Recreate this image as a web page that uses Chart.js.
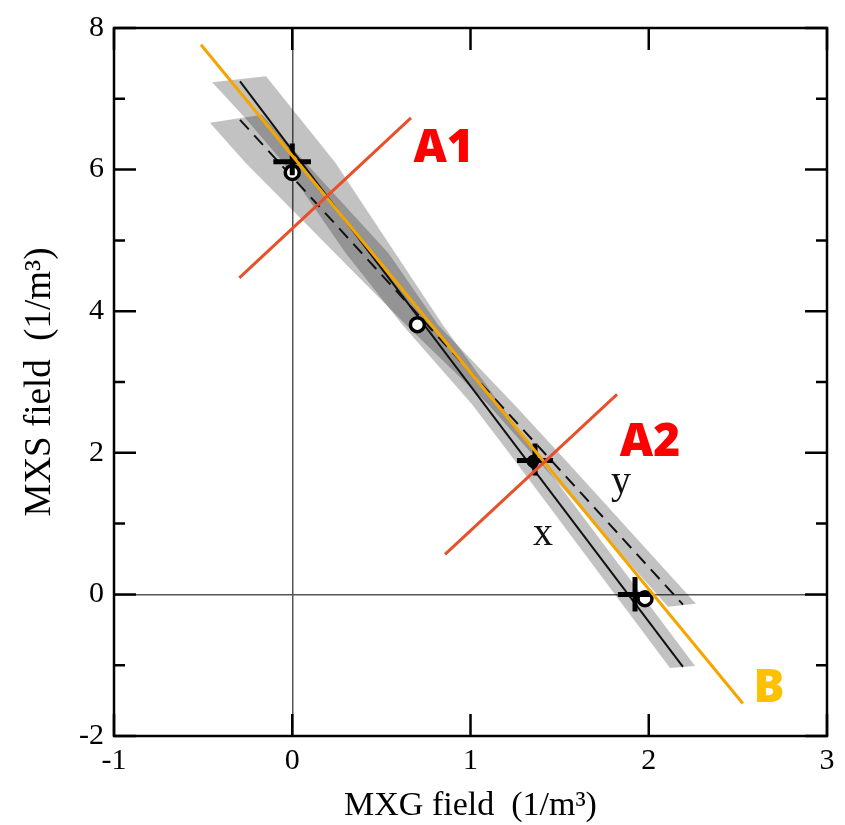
<!DOCTYPE html>
<html>
<head>
<meta charset="utf-8">
<script src="https://cdn.jsdelivr.net/npm/chart.js@4.4.1/dist/chart.umd.min.js"></script>
<style>
  html, body { margin: 0; padding: 0; background: #fff; }
  #wrap { width: 845px; height: 825px; }
</style>
</head>
<body>
<div id="wrap"><canvas id="fieldChart" width="845" height="825"></canvas></div>
<script>
// axis ticks
const xTicks = [-1, 0, 1, 2, 3];
const yTicks = [-2, 0, 2, 4, 6, 8];
const yMinorTicks = [-1, 1, 3, 5, 7];

// regression lines, x on y (solid) and y on x (dashed)
const xFitX = [-0.293, 2.192];
const xFitY = [7.247, -1.024];
const yFitX = [-0.293, 2.192];
const yFitY = [6.703, -0.145];

// reference line B and the two cross sections A1, A2
const lineBX = [-0.512, 2.528];
const lineBY = [7.763, -1.541];
const lineA1X = [-0.297, 0.666];
const lineA1Y = [4.471, 6.730];
const lineA2X = [0.857, 1.822];
const lineA2Y = [0.566, 2.826];

// confidence band outlines
const xBandX = [-0.450, -0.147, 0.240, 0.846, 1.166, 1.390, 2.260, 2.119, 1.244, 1.008, 0.620, 0.300, -0.052, -0.265];
const xBandY = [7.233, 7.317, 6.103, 3.802, 2.686, 1.905, -1.010, -1.038, 1.905, 2.686, 3.802, 4.820, 6.103, 6.731];
const yBandX = [-0.462, -0.170, 0.072, 0.540, 0.820, 1.244, 1.530, 2.265, 2.108, 1.373, 1.098, 0.640, -0.265];
const yBandY = [6.661, 6.773, 6.103, 4.820, 3.802, 2.686, 1.905, -0.131, -0.173, 1.905, 2.686, 3.802, 6.103];

// measured points
const circleX = [0.0, 0.702, 1.979];
const circleY = [5.96, 3.81, -0.06];
const dotX = [1.35];
const dotY = [1.88];

// error bars
const barX = [0.0, 1.362, 1.923];
const barY = [6.11, 1.89, 0.0];
const barXLo = [-0.106, 1.261, 1.827];
const barXHi = [0.105, 1.463, 2.024];
const barYLo = [5.92, 1.68, -0.243];
const barYHi = [6.37, 2.13, 0.245];

// annotations
const tagText = ['A1', 'A2', 'B'];
const tagX = [0.849, 2.007, 2.675];
const tagY = [6.103, 1.961, -1.526];
const fitTagText = ['x', 'y'];
const fitTagX = [1.407, 1.844];
const fitTagY = [0.692, 1.431];

const serif = '"Liberation Serif", "Times New Roman", serif';

function pts(xs, ys) {
    return xs.map((x, i) => ({ x: x, y: ys[i] }));
}

function errorBarPoints() {
    const out = [];
    for (let i = 0; i < barX.length; i++) {
        out.push({ x: barXLo[i], y: barY[i] }, { x: barXHi[i], y: barY[i] }, { x: barX[i], y: null });
        out.push({ x: barX[i], y: barYLo[i] }, { x: barX[i], y: barYHi[i] }, { x: barX[i], y: null });
    }
    return out;
}

// frame with inward ticks on all four sides
const framePlugin = {
    id: 'frame',
    afterDraw(chart) {
        const ctx = chart.ctx;
        const a = chart.chartArea;
        const xs = chart.scales.x;
        const ys = chart.scales.y;
        ctx.save();
        ctx.strokeStyle = '#000';
        ctx.lineWidth = 2.5;
        ctx.lineCap = 'butt';
        ctx.beginPath();
        xTicks.forEach(v => {
            const px = xs.getPixelForValue(v);
            ctx.moveTo(px, a.bottom); ctx.lineTo(px, a.bottom - 22);
            ctx.moveTo(px, a.top); ctx.lineTo(px, a.top + 22);
        });
        yTicks.forEach(v => {
            const py = ys.getPixelForValue(v);
            ctx.moveTo(a.left, py); ctx.lineTo(a.left + 22, py);
            ctx.moveTo(a.right, py); ctx.lineTo(a.right - 22, py);
        });
        yMinorTicks.forEach(v => {
            const py = ys.getPixelForValue(v);
            ctx.moveTo(a.left, py); ctx.lineTo(a.left + 11, py);
            ctx.moveTo(a.right, py); ctx.lineTo(a.right - 11, py);
        });
        ctx.stroke();
        ctx.strokeRect(a.left, a.top, a.right - a.left, a.bottom - a.top);
        ctx.restore();
    }
};

// text tags placed in data coordinates
const tagPlugin = {
    id: 'tags',
    afterDatasetsDraw(chart) {
        const ctx = chart.ctx;
        const xs = chart.scales.x;
        const ys = chart.scales.y;
        ctx.save();
        ctx.textAlign = 'center';
        ctx.textBaseline = 'alphabetic';
        ctx.font = '800 46px "Open Sans", sans-serif';
        tagText.forEach((t, i) => {
            ctx.fillStyle = t === 'B' ? '#FFC000' : '#FF0000';
            ctx.fillText(t, xs.getPixelForValue(tagX[i]), ys.getPixelForValue(tagY[i]));
        });
        ctx.font = '40px ' + serif;
        ctx.fillStyle = '#111';
        fitTagText.forEach((t, i) => {
            ctx.fillText(t, xs.getPixelForValue(fitTagX[i]), ys.getPixelForValue(fitTagY[i]));
        });
        ctx.restore();
    }
};

const zeroLine = c => (c.tick && c.tick.value === 0) ? '#555' : 'rgba(0,0,0,0)';

new Chart(document.getElementById('fieldChart'), {
    type: 'line',
    data: {
        datasets: [
            { label: 'A1', data: pts(lineA1X, lineA1Y), borderColor: '#E8502A', borderWidth: 3, order: 0 },
            { label: 'A2', data: pts(lineA2X, lineA2Y), borderColor: '#E8502A', borderWidth: 3, order: 0 },
            { label: 'B', data: pts(lineBX, lineBY), borderColor: '#F5A500', borderWidth: 3, order: 1 },
            { label: 'error bars', data: errorBarPoints(), borderColor: '#000', borderWidth: 5, spanGaps: false, order: 2 },
            { label: 'points', data: pts(circleX, circleY), showLine: false, pointRadius: 7, pointBackgroundColor: '#fff', pointBorderColor: '#000', pointBorderWidth: 3.5, order: 3 },
            { label: 'dot', data: pts(dotX, dotY), showLine: false, pointRadius: 6, pointBackgroundColor: '#000', pointBorderColor: '#000', pointBorderWidth: 1, order: 3 },
            { label: 'x fit', data: pts(xFitX, xFitY), borderColor: '#111', borderWidth: 2, order: 4 },
            { label: 'y fit', data: pts(yFitX, yFitY), borderColor: '#111', borderWidth: 2, borderDash: [13, 8], order: 4 },
            { label: 'x band', data: pts(xBandX, xBandY), borderWidth: 0, borderColor: 'rgba(0,0,0,0)', backgroundColor: 'rgba(0,0,0,0.24)', fill: 'shape', order: 5 },
            { label: 'y band', data: pts(yBandX, yBandY), borderWidth: 0, borderColor: 'rgba(0,0,0,0)', backgroundColor: 'rgba(0,0,0,0.24)', fill: 'shape', order: 5 }
        ]
    },
    options: {
        responsive: false,
        animation: false,
        layout: { padding: { left: 0, top: 19, right: 18, bottom: 0 } },
        elements: {
            point: { radius: 0, hoverRadius: 0 },
            line: { tension: 0, fill: false }
        },
        plugins: {
            legend: { display: false },
            tooltip: { enabled: false }
        },
        scales: {
            x: {
                type: 'linear',
                min: -1,
                max: 3,
                afterBuildTicks: s => { s.ticks = xTicks.map(v => ({ value: v })); },
                afterFit: s => { s.height = 89; },
                grid: { drawTicks: false, color: zeroLine, lineWidth: 1.5 },
                border: { display: false },
                ticks: { padding: 7, color: '#000', maxRotation: 0, autoSkip: false, font: { family: serif, size: 30 } },
                title: {
                    display: true,
                    text: 'MXG field  (1/m³)',
                    color: '#000',
                    font: { family: serif, size: 34, lineHeight: 1.1 },
                    padding: { top: 0, bottom: 0 }
                }
            },
            y: {
                type: 'linear',
                min: -2,
                max: 8,
                afterBuildTicks: s => { s.ticks = yTicks.map(v => ({ value: v })); },
                afterFit: s => { s.width = 114; },
                grid: { drawTicks: false, color: zeroLine, lineWidth: 1.5 },
                border: { display: false },
                ticks: { padding: 10, color: '#000', autoSkip: false, font: { family: serif, size: 30 } },
                title: {
                    display: true,
                    text: 'MXS field  (1/m³)',
                    color: '#000',
                    font: { family: serif, size: 37, lineHeight: 1.1 },
                    padding: { top: 20, bottom: 0 }
                }
            }
        }
    },
    plugins: [tagPlugin, framePlugin]
});
</script>
</body>
</html>
